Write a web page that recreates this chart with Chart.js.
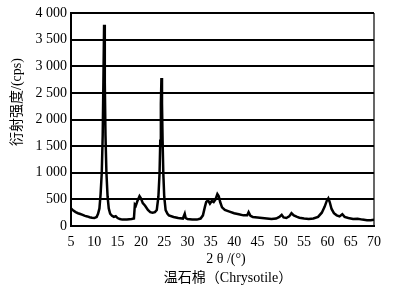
<!DOCTYPE html>
<html>
<head>
<meta charset="utf-8">
<script src="https://cdn.jsdelivr.net/npm/chart.js@4"></script>
<style>
  html, body { margin: 0; padding: 0; background: #fff; }
  #box { width: 404px; height: 293px; }
</style>
</head>
<body>
<div id="box"><canvas id="grafico"></canvas></div>
<script>
// 2θ (graus) e intensidade (cps)
var doisTheta = [
  5.0, 5.5, 6.0, 6.5, 7.0, 7.5, 8.0, 8.5, 9.0, 9.5, 10.0, 10.5, 10.8, 11.1, 11.35, 11.6, 11.8, 11.95,
  12.1, 12.25, 12.4, 12.6, 12.85, 13.1, 13.4, 13.8, 14.2, 14.6, 15.0, 15.5, 16.0, 16.5, 17.0, 17.5,
  18.0, 18.5, 18.7, 18.9, 19.3, 19.7, 20.0, 20.4, 20.9, 21.5, 22.0, 22.5, 23.0, 23.4, 23.75, 24.0,
  24.15, 24.28, 24.4, 24.52, 24.65, 24.8, 25.0, 25.3, 25.7, 26.0, 27.0, 28.0, 29.0, 29.4, 29.6, 30.0,
  31.0, 32.0, 32.8, 33.3, 33.7, 34.0, 34.4, 34.8, 35.2, 35.6, 36.0, 36.4, 36.7, 37.0, 37.4, 38.0,
  39.0, 40.0, 41.0, 42.0, 42.8, 43.1, 43.5, 44.0, 45.0, 46.0, 47.0, 48.0, 49.0, 49.7, 50.2, 50.6,
  51.2, 51.8, 52.3, 52.8, 53.5, 54.0, 55.0, 56.0, 57.0, 58.0, 58.8, 59.4, 59.9, 60.2, 60.5, 60.9,
  61.4, 62.0, 62.6, 63.2, 63.7, 64.5, 65.5, 66.5, 67.5, 68.5, 69.3, 70.0
];
var intensidade = [
  330, 290, 260, 240, 225, 210, 190, 180, 165, 155, 150, 170, 230, 330, 600, 1000, 1700, 2700,
  3780, 2700, 1700, 1000, 550, 330, 230, 190, 170, 185, 150, 130, 120, 120, 120, 125,
  130, 140, 400, 380, 480, 560, 520, 430, 380, 300, 260, 250, 260, 300, 550, 1000,
  1600, 2300, 2780, 2300, 1600, 1000, 550, 300, 230, 200, 170, 150, 140, 230, 150, 130,
  120, 120, 140, 200, 350, 450, 480, 420, 470, 450, 500, 600, 560, 450, 350, 300,
  270, 240, 220, 200, 200, 260, 190, 170, 160, 150, 140, 130, 140, 170, 210, 160,
  150, 180, 240, 200, 170, 155, 140, 130, 140, 170, 250, 360, 480, 520, 450, 320,
  240, 200, 180, 220, 170, 150, 130, 135, 120, 110, 110, 120
];
var ticksX = [5, 10, 15, 20, 25, 30, 35, 40, 45, 50, 55, 60, 65, 70];
var ticksY = [0, 500, 1000, 1500, 2000, 2500, 3000, 3500, 4000];

var tituloX = "2 θ /(°)";
var tituloY = "衍射强度/(cps)";
var legenda = "温石棉（Chrysotile）";

var pontos = [];
for (var i = 0; i < doisTheta.length; i++) {
  pontos.push({ x: doisTheta[i], y: intensidade[i] });
}

var fonteSerif = "'Liberation Serif', 'Noto Sans CJK SC', serif";

// moldura direita e textos dos eixos
var extras = {
  id: "extras",
  afterDraw: function (chart) {
    var ctx = chart.ctx;
    var area = chart.chartArea;
    ctx.save();
    ctx.strokeStyle = "#000";
    ctx.lineWidth = 1.2;
    ctx.beginPath();
    ctx.moveTo(area.right, area.top);
    ctx.lineTo(area.right, area.bottom);
    ctx.stroke();

    ctx.fillStyle = "#000";
    ctx.textAlign = "center";
    ctx.textBaseline = "middle";
    ctx.font = "14px " + fonteSerif;
    ctx.fillText(tituloX, 226, 259);
    ctx.fillText(legenda, 228, 278);

    ctx.translate(17, 102);
    ctx.rotate(-Math.PI / 2);
    ctx.fillText(tituloY, 0, 0);
    ctx.restore();
  },
};

const config = {
  type: "line",
  data: {
    datasets: [
      {
        data: pontos,
        borderColor: "#000",
        borderWidth: 2.5,
        pointRadius: 0,
        tension: 0,
        fill: false,
      },
    ],
  },
  options: {
    responsive: false,
    animation: false,
    layout: { padding: { top: 13, right: 30, left: 0, bottom: 0 } },
    plugins: {
      legend: { display: false },
      tooltip: { enabled: false },
    },
    scales: {
      x: {
        type: "linear",
        min: 5,
        max: 70,
        afterFit: function (scale) { scale.height = 67; },
        afterBuildTicks: function (scale) {
          scale.ticks = ticksX.map(function (v) { return { value: v }; });
        },
        grid: { display: false, drawTicks: false },
        border: { display: true, color: "#000", width: 2 },
        ticks: {
          color: "#000",
          padding: 8,
          maxRotation: 0,
          autoSkip: false,
          font: { family: fonteSerif, size: 14 },
        },
      },
      y: {
        min: 0,
        max: 4000,
        afterFit: function (scale) { scale.width = 71; },
        afterBuildTicks: function (scale) {
          scale.ticks = ticksY.map(function (v) { return { value: v }; });
        },
        grid: { color: "#000", lineWidth: 2, drawTicks: false },
        border: { display: true, color: "#000", width: 2 },
        ticks: {
          color: "#000",
          padding: 4,
          font: { family: fonteSerif, size: 14 },
          callback: function (v) {
            if (v >= 1000) {
              var s = String(v);
              return s.slice(0, s.length - 3) + " " + s.slice(s.length - 3);
            }
            return String(v);
          },
        },
      },
    },
  },
  plugins: [extras],
};

var canvas = document.getElementById("grafico");
canvas.width = 404;
canvas.height = 293;
let grafico = new Chart(canvas, config);
</script>
</body>
</html>
